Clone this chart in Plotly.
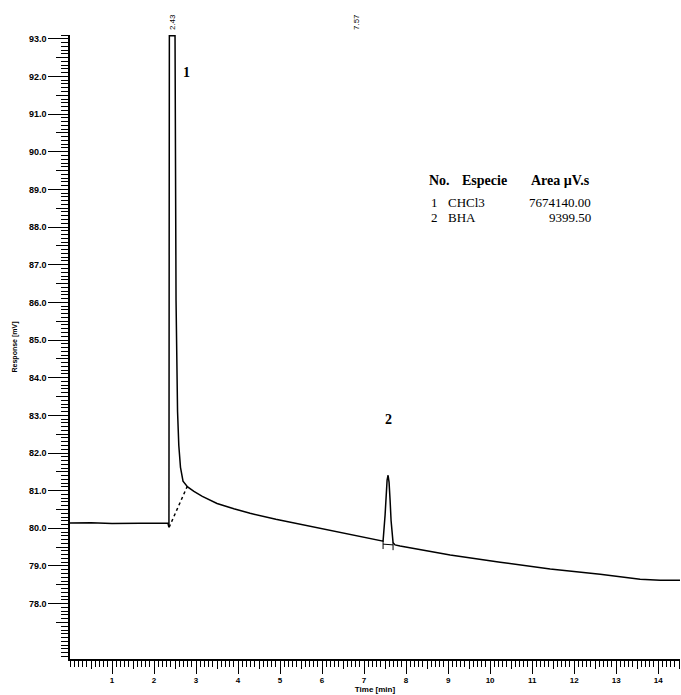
import plotly.graph_objects as go

# Chromatogram trace (time in min, response in mV)
time_min = [0.0, 0.5, 1.0, 1.5, 2.0, 2.33, 2.355, 2.365, 2.50, 2.524, 2.560, 2.590,
            2.630, 2.69, 2.80, 2.95, 3.15, 3.5, 3.9, 4.286, 4.9, 5.476, 6.43, 7.38,
            7.452, 7.5, 7.524, 7.548, 7.571, 7.595, 7.619, 7.643, 7.69, 7.738, 7.857,
            9.05, 10.24, 11.43, 12.62, 13.57, 14.05, 14.52]
response_mv = [80.14, 80.15, 80.13, 80.14, 80.15, 80.14, 80.03, 93.08, 93.08, 86.05,
               83.10, 82.20, 81.62, 81.25, 81.10, 80.98, 80.85, 80.66, 80.52, 80.40,
               80.24, 80.11, 79.90, 79.68, 79.66, 80.35, 80.88, 81.28, 81.41, 81.22,
               80.75, 80.20, 79.62, 79.56, 79.53, 79.29, 79.10, 78.92, 78.78, 78.65,
               78.62, 78.62]

# Integration baseline of peak 1 (dotted)
base1_t = [2.36, 2.81]
base1_v = [80.03, 81.16]
# Integration markers of peak 2
base2_t = [7.452, 7.452, None, 7.452, 7.69, None, 7.69, 7.69]
base2_v = [79.66, 79.45, None, 79.58, 79.56, None, 79.62, 79.42]

peak_times = [2.43, 7.57]
peak_labels = ["2.43", "7.57"]
peak_numbers = ["1", "2"]
peak_number_pos = [(2.78, 92.1), (7.57, 82.9)]

y_ticks = [78, 79, 80, 81, 82, 83, 84, 85, 86, 87, 88, 89, 90, 91, 92, 93]
y_half_ticks = [v + 0.5 for v in range(76, 93)]
x_ticks = list(range(1, 15))
x_half_ticks = [v + 0.5 for v in range(0, 15)]

table_header = ["No.", "Especie", "Area µV.s"]
table_no = ["1", "2"]
table_species = ["CHCl3", "BHA"]
table_area = ["7674140.00", "9399.50"]

X_RANGE = [0, 14.52]
Y_RANGE = [76.53, 93.1]

fig = go.Figure()
fig.add_trace(go.Scatter(x=time_min, y=response_mv, mode="lines",
                         line=dict(color="black", width=1.5), hoverinfo="skip"))
fig.add_trace(go.Scatter(x=base1_t, y=base1_v, mode="lines",
                         line=dict(color="black", width=1.5, dash="dot"), hoverinfo="skip"))
fig.add_trace(go.Scatter(x=base2_t, y=base2_v, mode="lines",
                         line=dict(color="black", width=1), hoverinfo="skip"))
# invisible helpers to carry the medium-length tick axes
fig.add_trace(go.Scatter(x=[X_RANGE[0]], y=[Y_RANGE[0]], xaxis="x", yaxis="y2",
                         mode="markers", marker=dict(opacity=0), hoverinfo="skip"))
fig.add_trace(go.Scatter(x=[X_RANGE[0]], y=[Y_RANGE[0]], xaxis="x2", yaxis="y",
                         mode="markers", marker=dict(opacity=0), hoverinfo="skip"))

tickfont = dict(family="Liberation Sans", size=9, color="black", weight="bold")

fig.update_layout(
    width=681, height=695,
    margin=dict(l=70, r=1, t=35, b=36),
    paper_bgcolor="white", plot_bgcolor="white",
    showlegend=False,
    xaxis=dict(range=X_RANGE, showgrid=False, zeroline=False,
               showline=True, linecolor="black", linewidth=1.5,
               tickmode="array", tickvals=x_ticks, ticktext=[str(v) for v in x_ticks],
               ticks="outside", ticklen=13, tickwidth=1.3, tickcolor="black",
               tickfont=dict(family="Liberation Sans", size=8, color="black", weight="bold"),
               minor=dict(tickmode="linear", tick0=0, dtick=0.1, ticks="outside",
                          ticklen=6, tickwidth=1, tickcolor="black"),
               title=dict(text="Time [min]", standoff=2,
                          font=dict(family="Liberation Sans", size=8, color="black", weight="bold"))),
    xaxis2=dict(range=X_RANGE, overlaying="x", side="bottom", anchor="y",
                showgrid=False, zeroline=False, showline=False, showticklabels=False,
                tickmode="array", tickvals=x_half_ticks, ticks="outside", ticklen=9,
                tickwidth=1.2, tickcolor="black"),
    yaxis=dict(range=Y_RANGE, showgrid=False, zeroline=False,
               showline=True, linecolor="black", linewidth=1.5,
               tickmode="array", tickvals=y_ticks, ticktext=[f"{v:.1f}" for v in y_ticks],
               ticks="outside", ticklen=20, tickwidth=1.3, tickcolor="black",
               tickfont=tickfont,
               minor=dict(tickmode="linear", tick0=0, dtick=0.1, ticks="outside",
                          ticklen=7, tickwidth=1, tickcolor="black"),
               title=dict(text="Response [mV]", standoff=10,
                          font=dict(family="Liberation Sans", size=7, color="black", weight="bold"))),
    yaxis2=dict(range=Y_RANGE, overlaying="y", side="left", anchor="x",
                showgrid=False, zeroline=False, showline=False, showticklabels=False,
                tickmode="array", tickvals=y_half_ticks, ticks="outside", ticklen=13,
                tickwidth=1.2, tickcolor="black"),
)

# peak retention time labels (rotated, above plot)
for t, lab, xs in zip(peak_times, peak_labels, [0, -32]):
    fig.add_annotation(x=t, y=1.0, xref="x", yref="paper", text=lab, textangle=-90,
                       showarrow=False, yanchor="bottom", yshift=3, xshift=xs,
                       font=dict(family="Liberation Sans", size=8, color="black"))

# peak numbers
for (px, py), num in zip(peak_number_pos, peak_numbers):
    fig.add_annotation(x=px, y=py, text=num, showarrow=False,
                       font=dict(family="Liberation Serif", size=14, color="black", weight="bold"))

# results table
serif = dict(family="Liberation Serif", size=13, color="black")
serif_b = dict(family="Liberation Serif", size=14, color="black", weight="bold")
for x, txt in zip([0.586, 0.639, 0.752], table_header):
    fig.add_annotation(x=x, y=0.782, xref="paper", yref="paper", text=txt,
                       showarrow=False, xanchor="left", font=serif_b)
rows_y = [0.747, 0.722]
for i in range(2):
    fig.add_annotation(x=0.589, y=rows_y[i], xref="paper", yref="paper", text=table_no[i],
                       showarrow=False, xanchor="left", font=serif)
    fig.add_annotation(x=0.616, y=rows_y[i], xref="paper", yref="paper", text=table_species[i],
                       showarrow=False, xanchor="left", font=serif)
    fig.add_annotation(x=0.858, y=rows_y[i], xref="paper", yref="paper", text=table_area[i],
                       showarrow=False, xanchor="right", font=serif)

fig.write_html("out.html")
